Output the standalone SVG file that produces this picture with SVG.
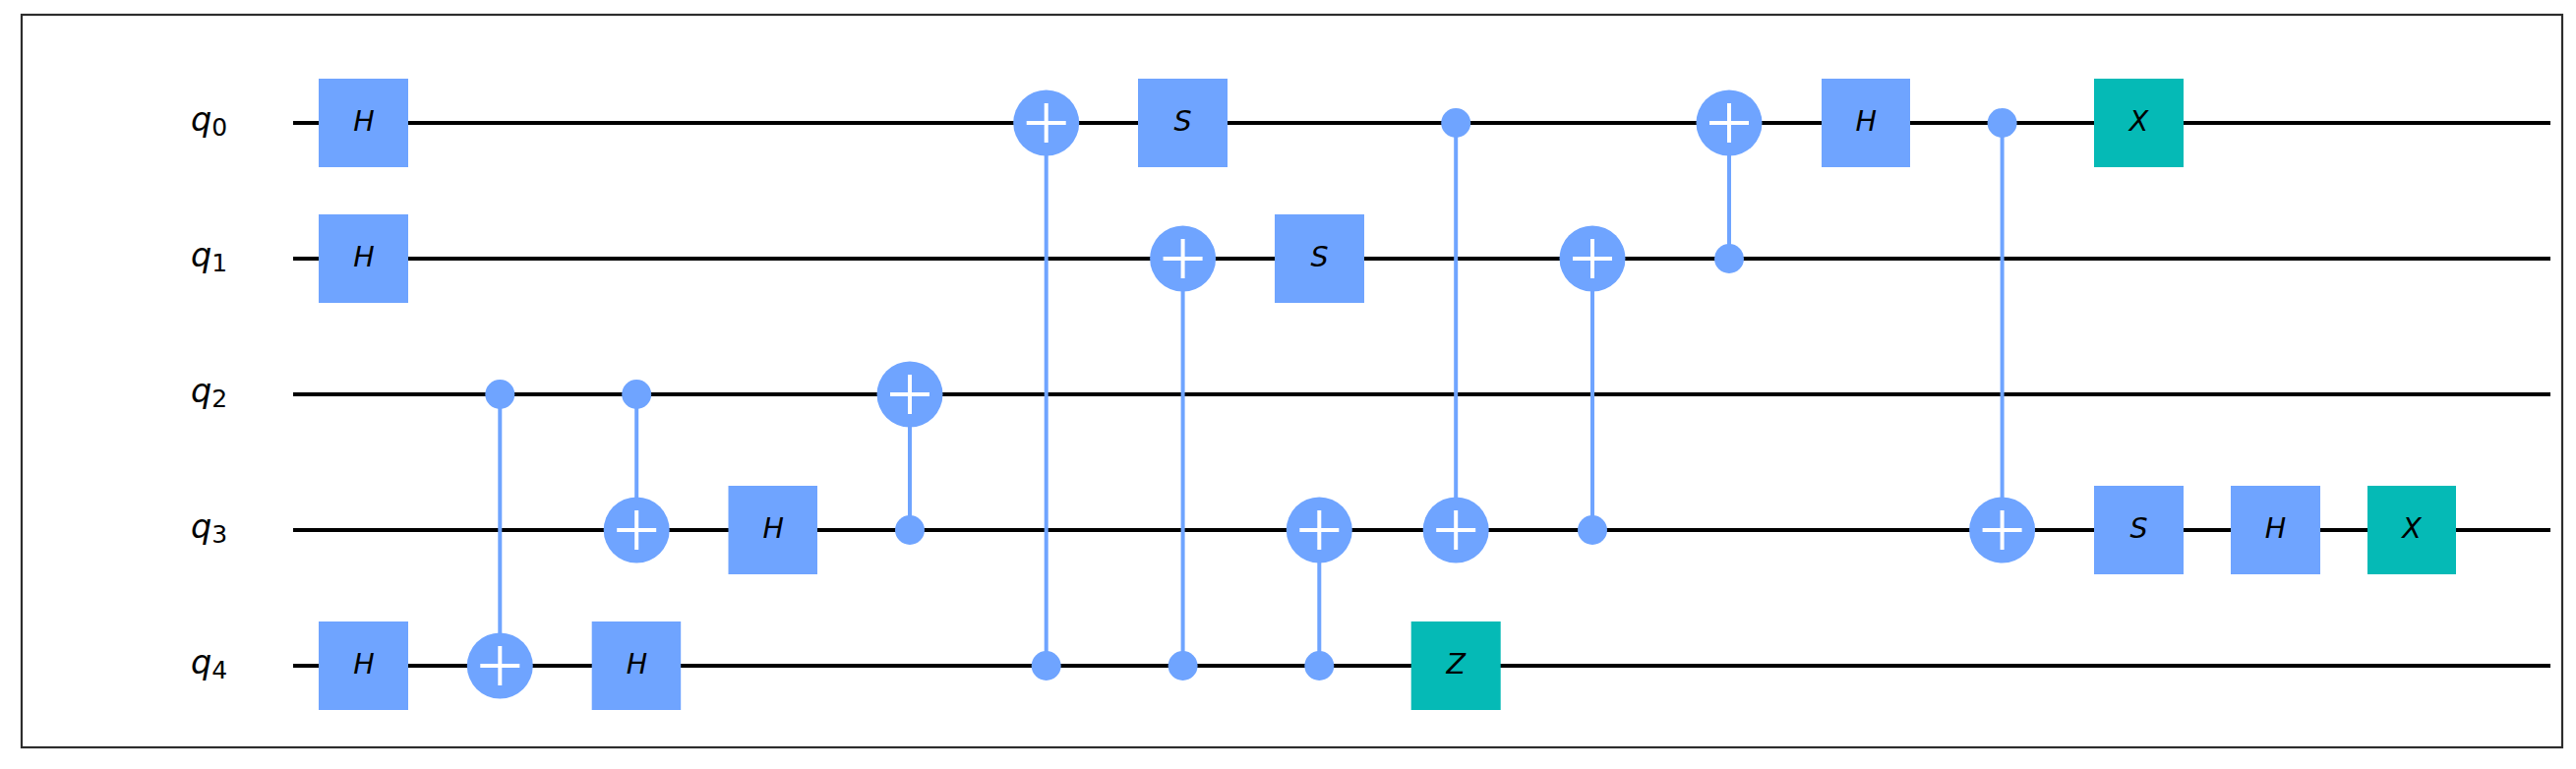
<svg xmlns="http://www.w3.org/2000/svg" width="2619" height="782" viewBox="0 0 2619 782">
<style>
.wire{stroke:#000;stroke-width:4.2;fill:none}
.link{stroke:#6FA4FF;stroke-width:4;fill:none}
.frame{fill:#fff;stroke:#2d2d2d;stroke-width:2.2}
.b{fill:#6FA4FF}
.t{fill:#05BAB6}
.g{font-family:"DejaVu Sans",sans-serif;font-style:italic;font-size:28.5px;fill:#000;text-anchor:middle}
.q{font-family:"DejaVu Sans",sans-serif;font-style:italic;font-size:33.5px;fill:#000}
.q tspan{font-style:normal;font-size:25px}
.plus{stroke:#fff;stroke-width:4;fill:none}
</style>
<defs>
<g id="tgt"><circle r="33.5" class="b"/><path class="plus" d="M-20 0H20M0 -20V20"/></g>
</defs>
<rect class="frame" x="22" y="15" width="2583" height="745"/>
<g id="connectors">
<g id="wires">
<line class="wire" x1="298" y1="125" x2="2593" y2="125"/>
<line class="wire" x1="298" y1="263" x2="2593" y2="263"/>
<line class="wire" x1="298" y1="401" x2="2593" y2="401"/>
<line class="wire" x1="298" y1="539" x2="2593" y2="539"/>
<line class="wire" x1="298" y1="677" x2="2593" y2="677"/>
</g>
<line class="link" x1="508.3" y1="401" x2="508.3" y2="677"/>
<line class="link" x1="647.2" y1="401" x2="647.2" y2="539"/>
<line class="link" x1="925" y1="401" x2="925" y2="539"/>
<line class="link" x1="1063.7" y1="125" x2="1063.7" y2="677"/>
<line class="link" x1="1202.6" y1="263" x2="1202.6" y2="677"/>
<line class="link" x1="1341.3" y1="539" x2="1341.3" y2="677"/>
<line class="link" x1="1480.2" y1="125" x2="1480.2" y2="539"/>
<line class="link" x1="1619" y1="263" x2="1619" y2="539"/>
<line class="link" x1="1758" y1="125" x2="1758" y2="263"/>
<line class="link" x1="2035.6" y1="125" x2="2035.6" y2="539"/>
</g>
<g id="labels">
<text class="q" id="label-q0" x="194" y="132.6">q<tspan dy="5">0</tspan></text>
<text class="q" id="label-q1" x="194" y="270.6">q<tspan dy="5">1</tspan></text>
<text class="q" id="label-q2" x="194" y="408.6">q<tspan dy="5">2</tspan></text>
<text class="q" id="label-q3" x="194" y="546.6">q<tspan dy="5">3</tspan></text>
<text class="q" id="label-q4" x="194" y="684.6">q<tspan dy="5">4</tspan></text>
</g>
<g id="h-q0-0"><rect class="b" x="324" y="80" width="91" height="90"/><text class="g" x="370" y="132.6">H</text></g>
<g id="h-q1-0"><rect class="b" x="324" y="218" width="91" height="90"/><text class="g" x="370" y="270.6">H</text></g>
<g id="h-q4-0"><rect class="b" x="324" y="632" width="91" height="90"/><text class="g" x="370" y="684.6">H</text></g>
<g id="cx-1"><circle class="b" cx="508.3" cy="401" r="15"/><use href="#tgt" x="508.3" y="677"/></g>
<g id="cx-2"><circle class="b" cx="647.2" cy="401" r="15"/><use href="#tgt" x="647.2" y="539"/></g>
<g id="h-q4-2"><rect class="b" x="601.7" y="632" width="90.5" height="90"/><text class="g" x="647.5" y="684.6">H</text></g>
<g id="h-q3-3"><rect class="b" x="740.5" y="494" width="90.5" height="90"/><text class="g" x="786.3" y="546.6">H</text></g>
<g id="cx-4"><use href="#tgt" x="925" y="401"/><circle class="b" cx="925" cy="539" r="15"/></g>
<g id="cx-5"><use href="#tgt" x="1063.7" y="125"/><circle class="b" cx="1063.7" cy="677" r="15"/></g>
<g id="s-q0-6"><rect class="b" x="1157" y="80" width="91" height="90"/><text class="g" x="1202.5" y="132.6">S</text></g>
<g id="cx-6"><use href="#tgt" x="1202.6" y="263"/><circle class="b" cx="1202.6" cy="677" r="15"/></g>
<g id="s-q1-7"><rect class="b" x="1296" y="218" width="91" height="90"/><text class="g" x="1341.5" y="270.6">S</text></g>
<g id="cx-7"><use href="#tgt" x="1341.3" y="539"/><circle class="b" cx="1341.3" cy="677" r="15"/></g>
<g id="cx-8"><circle class="b" cx="1480.2" cy="125" r="15"/><use href="#tgt" x="1480.2" y="539"/></g>
<g id="z-q4-8"><rect class="t" x="1434.7" y="632" width="91" height="90"/><text class="g" x="1480.2" y="684.6">Z</text></g>
<g id="cx-9"><use href="#tgt" x="1619" y="263"/><circle class="b" cx="1619" cy="539" r="15"/></g>
<g id="cx-10"><use href="#tgt" x="1758" y="125"/><circle class="b" cx="1758" cy="263" r="15"/></g>
<g id="h-q0-11"><rect class="b" x="1852" y="80" width="90" height="90"/><text class="g" x="1897.3" y="132.6">H</text></g>
<g id="cx-12"><circle class="b" cx="2035.6" cy="125" r="15"/><use href="#tgt" x="2035.6" y="539"/></g>
<g id="x-q0-13"><rect class="t" x="2129" y="80" width="91" height="90"/><text class="g" x="2174.5" y="132.6">X</text></g>
<g id="s-q3-13"><rect class="b" x="2129" y="494" width="91" height="90"/><text class="g" x="2174.5" y="546.6">S</text></g>
<g id="h-q3-14"><rect class="b" x="2268" y="494" width="91" height="90"/><text class="g" x="2313.5" y="546.6">H</text></g>
<g id="x-q3-15"><rect class="t" x="2407" y="494" width="90" height="90"/><text class="g" x="2452" y="546.6">X</text></g>
</svg>
